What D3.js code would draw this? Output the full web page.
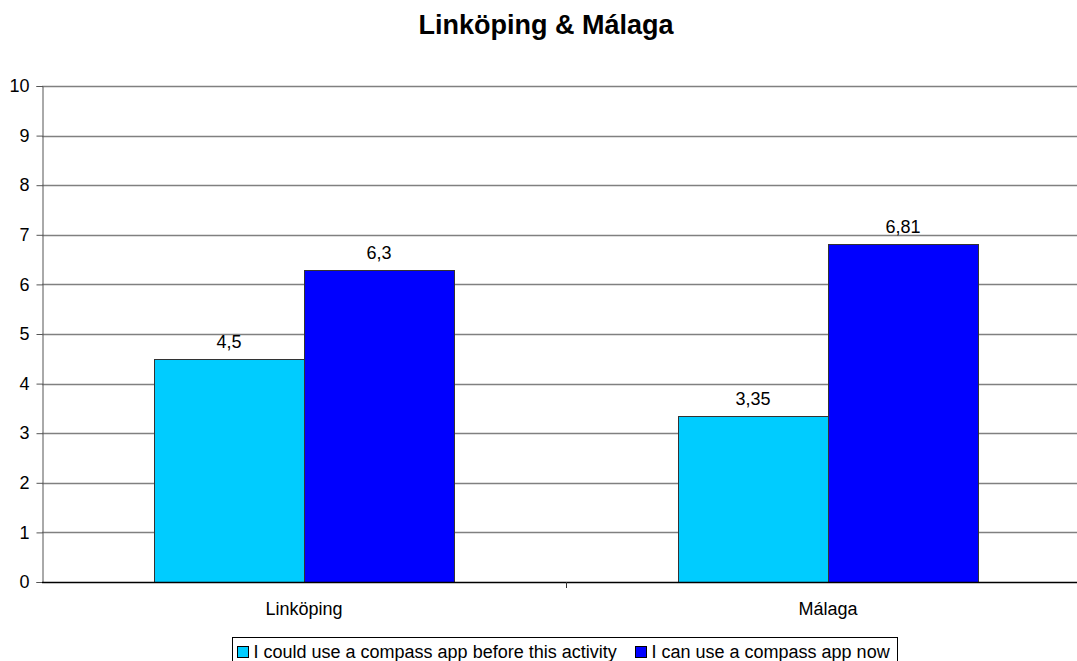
<!DOCTYPE html>
<html>
<head>
<meta charset="utf-8">
<script src="https://cdn.jsdelivr.net/npm/d3@7"></script>
<style>
  body { margin: 0; background: #fff; }
  svg text { font-family: "Liberation Sans", Arial, sans-serif; fill: #000; }
</style>
</head>
<body>
<div id="chart"></div>
<script>
// data
var categories = ['Linköping', 'Málaga'];
var series = ['I could use a compass app before this activity', 'I can use a compass app now'];
var before = [4.5, 3.35];
var now = [6.3, 6.81];
var labels_before = ['4,5', '3,35'];
var labels_now = ['6,3', '6,81'];
var colors = ['#00ccff', '#0000ff'];
var y_ticks = [0, 1, 2, 3, 4, 5, 6, 7, 8, 9, 10];

var width = 1077, height = 661;
var margin = { top: 86, right: -13, bottom: 79, left: 42 };

var svg = d3.select('#chart').append('svg')
    .attr('width', width)
    .attr('height', height);

var x = d3.scaleBand()
    .domain(categories)
    .range([margin.left, width - margin.right])
    .paddingInner(0)
    .paddingOuter(0);

var y = d3.scaleLinear()
    .domain([0, 10])
    .range([height - margin.bottom, margin.top]);

// bars are 150px each in a 524px band
var group_w = x.bandwidth() * 0.5725;
var xs = d3.scaleBand()
    .domain([0, 1])
    .range([(x.bandwidth() - group_w) / 2, (x.bandwidth() + group_w) / 2]);

// gridlines
svg.append('g')
    .selectAll('line')
    .data(y_ticks.filter(function(d) { return d > 0; }))
    .enter()
        .append('line')
        .attr('x1', margin.left)
        .attr('x2', width)
        .attr('y1', function(d) { return Math.round(y(d)) + 0.5; })
        .attr('y2', function(d) { return Math.round(y(d)) + 0.5; })
        .attr('stroke', '#808080')
        .attr('stroke-width', 1.3);

// y axis
var yAxis = svg.append('g')
    .attr('transform', 'translate(' + (margin.left + 0.5) + ',0)')
    .call(d3.axisLeft(y).tickValues(y_ticks).tickSize(6).tickPadding(7));
yAxis.select('.domain').attr('stroke', '#555');
yAxis.selectAll('.tick line').attr('stroke', '#555');
yAxis.selectAll('.tick text')
    .attr('font-family', null)
    .style('font-size', '18px');

// bars
var rows = categories.map(function(c, i) {
    return [
        { cat: c, s: 0, v: before[i], lbl: labels_before[i] },
        { cat: c, s: 1, v: now[i], lbl: labels_now[i] }
    ];
});

var grp = svg.selectAll('g.cat')
    .data(rows)
    .enter()
        .append('g')
        .attr('class', 'cat')
        .attr('transform', function(d) { return 'translate(' + x(d[0].cat) + ',0)'; });

grp.selectAll('rect')
    .data(function(d) { return d; })
    .enter()
        .append('rect')
        .attr('x', function(d) { return Math.round(xs(d.s)) + 0.5; })
        .attr('width', xs.bandwidth())
        .attr('y', function(d) { return Math.round(y(d.v)) + 0.5; })
        .attr('height', function(d) { return Math.round(y(0)) - Math.round(y(d.v)); })
        .style('fill', function(d) { return colors[d.s]; })
        .style('stroke', '#333')
        .style('stroke-width', 1);

grp.selectAll('text.val')
    .data(function(d) { return d; })
    .enter()
        .append('text')
        .attr('class', 'val')
        .attr('x', function(d) { return xs(d.s) + xs.bandwidth() / 2; })
        .attr('y', function(d) { return y(d.v) - 11; })
        .attr('text-anchor', 'middle')
        .style('font-size', '18px')
        .text(function(d) { return d.lbl; });

// category labels
svg.append('g')
    .selectAll('text')
    .data(categories)
    .enter()
        .append('text')
        .attr('x', function(d) { return x(d) + x.bandwidth() / 2; })
        .attr('y', 615)
        .attr('text-anchor', 'middle')
        .style('font-size', '18px')
        .text(function(d) { return d; });

// baseline
svg.append('line')
    .attr('x1', margin.left).attr('x2', width)
    .attr('y1', Math.round(y(0)) + 0.5).attr('y2', Math.round(y(0)) + 0.5)
    .attr('stroke', '#000').attr('stroke-width', 1.5);
// category separator tick
svg.append('line')
    .attr('x1', Math.round(x('Málaga')) + 0.5).attr('x2', Math.round(x('Málaga')) + 0.5)
    .attr('y1', y(0)).attr('y2', y(0) + 6)
    .attr('stroke', '#333');

// title
svg.append('text')
    .attr('x', 546)
    .attr('y', 34)
    .attr('text-anchor', 'middle')
    .style('font-size', '27px')
    .style('font-weight', 'bold')
    .text('Linköping & Málaga');

// legend
var legend = svg.append('g').attr('transform', 'translate(232.5,637.5)');
legend.append('rect')
    .attr('width', 665).attr('height', 30)
    .style('fill', '#fff').style('stroke', '#000');
var lx = [5, 403];
series.forEach(function(s, i) {
    legend.append('rect')
        .attr('x', lx[i]).attr('y', 9)
        .attr('width', 11).attr('height', 11)
        .style('fill', colors[i]).style('stroke', '#000');
    legend.append('text')
        .attr('x', lx[i] + 16).attr('y', 20)
        .style('font-size', '18px')
        .text(s);
});
</script>
</body>
</html>
